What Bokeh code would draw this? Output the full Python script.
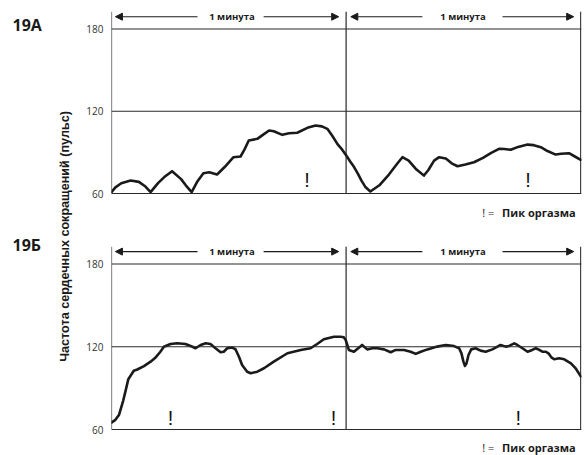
from math import pi

from bokeh.plotting import figure
from bokeh.models import Range1d, Span, Label, Arrow, NormalHead, FixedTicker, GridBox
from bokeh.embed import file_html
from bokeh.resources import INLINE

# Heart rate over two minutes, panel 19A (time in seconds, pulse in beats/min)
time_a = [0, 1, 2.5, 4.9, 7, 8.5, 10, 11.9, 13.5, 15.5, 17.8, 19, 20.5, 22, 23.5,
          25, 27, 29, 31.2, 33, 34, 35.1, 37.3, 38.8, 40.3, 41.5, 43.7, 45.4, 47.5,
          50.1, 52.2, 53.8, 55.2, 56.5, 57.8, 59, 60, 61, 62, 63, 64, 65, 66.2,
          68.5, 71, 73, 74.4, 76, 78, 79.9, 81, 82.5, 83.8, 85.5, 87, 88.5, 90.5,
          92.7, 95, 97, 99.1, 100.5, 102.1, 104, 106.4, 108, 109.8, 111.5, 113.6,
          115, 117, 118.5, 120]
pulse_a = [61, 64.5, 67.5, 69.5, 68.5, 65.5, 61, 67.6, 72, 76.3, 70.5, 66, 61, 69, 74.8,
           75.5, 73.9, 79.5, 86.5, 87, 92, 98.7, 99.9, 103, 106, 105.4, 102.8, 104, 104.3,
           107.9, 109.6, 109, 107.2, 102, 96, 92, 88, 83.5, 79.5, 74.5, 69, 64.5, 61.5,
           66, 74, 81.5, 86.5, 84, 77.5, 73.1, 77, 84, 86.5, 85.5, 82, 79.9, 81.2,
           82.8, 86, 89.5, 92.6, 92.5, 91.9, 94, 95.7, 95.3, 93.8, 91, 88.4,
           89, 89.4, 87, 84.6]

# Panel 19B
time_b = [0, 1, 1.9, 3, 3.6, 4.3, 5.7, 6.6, 8.3, 10, 11.2, 12.5, 13.4, 15.1, 16.8,
          18.9, 20.7, 21.5, 22.8, 24.1, 25.3, 26.6, 27.9, 28.7, 29.6, 30.9, 31.7,
          32.6, 33.4, 34.7, 35.6, 37.3, 39, 41.5, 45, 48.4, 50.9, 52.6, 54.3, 56.9,
          58.6, 59.4, 59.9, 60.7, 62, 64.1, 65.4, 66.7, 68, 69.7, 71.4, 72.7, 74.8,
          76.5, 77.8, 79.1, 80.8, 83.3, 85.5, 87.6, 88.9, 89.5, 90, 90.4, 90.8, 91.3,
          92, 93.1, 94.4, 95.7, 97.4, 98.7, 99.5, 100.8, 101.7, 103, 103.8, 105.1,
          106.4, 107.6, 108.5, 109.4, 110.2, 111.1, 111.9, 112.5, 113.2, 114.5,
          115.8, 117.5, 118.7, 120]
pulse_b = [65, 67, 70.5, 81, 88, 96.5, 102.6, 103.5, 106, 109.2, 112, 116.4, 120, 122, 122.5,
           122, 120, 118.9, 121.3, 122.5, 122, 118.9, 116, 116.4, 118.9, 119.4, 118.2,
           112.8, 106.8, 101.9, 100.8, 101.9, 104.4, 109.2, 115.3, 117.7, 118.9, 122, 125.4, 127.3,
           127.3, 126.9, 124.9, 117.7, 116.4, 121.3, 118.1, 118.9, 118.9, 118.1, 116, 117.7, 117.7,
           116.4, 114.8, 116.4, 118.1, 120.1, 121.3, 120.5, 118.9, 115.2, 109.2, 106.1, 108, 114,
           118.1, 118.9, 117.2, 116.4, 118.1, 120.1, 121.3, 120.1, 120.6, 122.5, 121.3, 118.9,
           116.4, 117.7, 118.9, 117.7, 116.4, 116.4, 114.8, 112.3, 110.9, 111.6,
           110.9, 108, 104.4, 98.5]

# Moments of orgasm peak (seconds)
peaks_a = [50.0, 106.5]
peaks_b = [15.1, 56.8, 104.0]

y_ticks = [60, 120, 180]
minute_marks = [0, 60, 120]
minute_label = "1 минута"
legend_mark = "! ="
legend_text = "Пик оргазма"
y_title = "Частота сердечных сокращений (пульс)"
panel_names = ["19А", "19Б"]

INK = "#1a1a1a"
GRID = "#2a2a2a"
FONT = "Open Sans"


def make_panel(times, pulses, peaks, height, top, y_start, y_end, legend_y, peak_y):
    p = figure(width=508, height=height, x_axis_type=None,
               x_range=Range1d(0, 120.2), y_range=Range1d(y_start, y_end),
               toolbar_location=None, output_backend="svg",
               min_border_left=35, min_border_right=3,
               min_border_top=top, min_border_bottom=0)
    p.outline_line_color = None
    p.ygrid.visible = False
    p.background_fill_color = "white"

    ax = p.yaxis[0]
    ax.ticker = FixedTicker(ticks=y_ticks)
    ax.major_tick_out = 0
    ax.major_tick_in = 0
    ax.minor_tick_out = 0
    ax.minor_tick_in = 0
    ax.axis_line_color = None
    ax.major_label_standoff = 8
    ax.major_label_text_font = FONT
    ax.major_label_text_font_size = "10px"
    ax.major_label_text_color = "#333333"

    # reference lines: baseline, 120 and 180
    for lvl in y_ticks:
        p.add_layout(Span(location=lvl, dimension="width",
                          line_color=GRID, line_width=1.1))
    # vertical rules at the start and at each minute boundary
    p.segment(x0=minute_marks, y0=[y_ticks[0]] * 3, x1=minute_marks, y1=[y_end] * 3,
              line_color=GRID, line_width=1.2)

    p.line(times, pulses, line_color=INK, line_width=2.6,
           line_join="round", line_cap="round")

    # minute arrows along the top
    arrow_y = 189
    for (a0, a1, c, b0, b1) in [(22.0, 1.0, 30.8, 38.9, 58.1),
                                (79.5, 61.2, 89.9, 100.0, 118.2)]:
        for xs, xe in ((a0, a1), (b0, b1)):
            p.add_layout(Arrow(x_start=xs, y_start=arrow_y, x_end=xe, y_end=arrow_y,
                               line_color=INK, line_width=1.1,
                               end=NormalHead(size=7, fill_color=INK, line_color=INK)))
        p.add_layout(Label(x=c, y=arrow_y, text=minute_label, text_align="center",
                           text_baseline="middle", text_font=FONT,
                           text_font_size="9.5px", text_font_style="bold",
                           text_color=INK))

    for t in peaks:
        p.add_layout(Label(x=t, y=peak_y, text="!", text_align="center",
                           text_baseline="alphabetic", text_font="Liberation Sans",
                           text_font_size="20px", text_color="#111111"))

    p.add_layout(Label(x=97.9, y=legend_y, text=legend_mark, text_align="right",
                       text_baseline="middle", text_font=FONT,
                       text_font_size="11px", text_color=INK))
    p.add_layout(Label(x=99.9, y=legend_y, text=legend_text, text_align="left",
                       text_baseline="middle", text_font=FONT,
                       text_font_size="11px", text_font_style="bold",
                       text_color=INK))
    return p


panel_a = make_panel(time_a, pulse_a, peaks_a, 227, 11, 35.2, 192.8, 46.1, 70.0)
panel_b = make_panel(time_b, pulse_b, peaks_b, 228, 19, 41.15, 192.7, 46.9, 68.0)

# narrow strip on the left: panel tags and the shared vertical title
strip = figure(width=76, height=455, x_range=Range1d(0, 76), y_range=Range1d(0, 455),
               x_axis_type=None, y_axis_type=None, toolbar_location=None,
               output_backend="svg", min_border=0)
strip.outline_line_color = None
strip.grid.visible = False
for name, top_px in zip(panel_names, (3, 228)):
    strip.add_layout(Label(x=12, y=455 - top_px, text=name, text_align="left",
                           text_baseline="top", text_font=FONT,
                           text_font_size="16px", text_font_style="bold",
                           text_color=INK))
strip.add_layout(Label(x=64, y=455 - 230.5, text=y_title, angle=pi / 2,
                       text_align="center", text_baseline="middle",
                       text_font="Liberation Sans", text_font_size="12.6px",
                       text_font_style="bold", text_color=INK))

layout = GridBox(children=[(strip, 0, 0, 2, 1), (panel_a, 0, 1), (panel_b, 1, 1)],
                 spacing=0)

open("out.html", "w").write(file_html(layout, INLINE))
